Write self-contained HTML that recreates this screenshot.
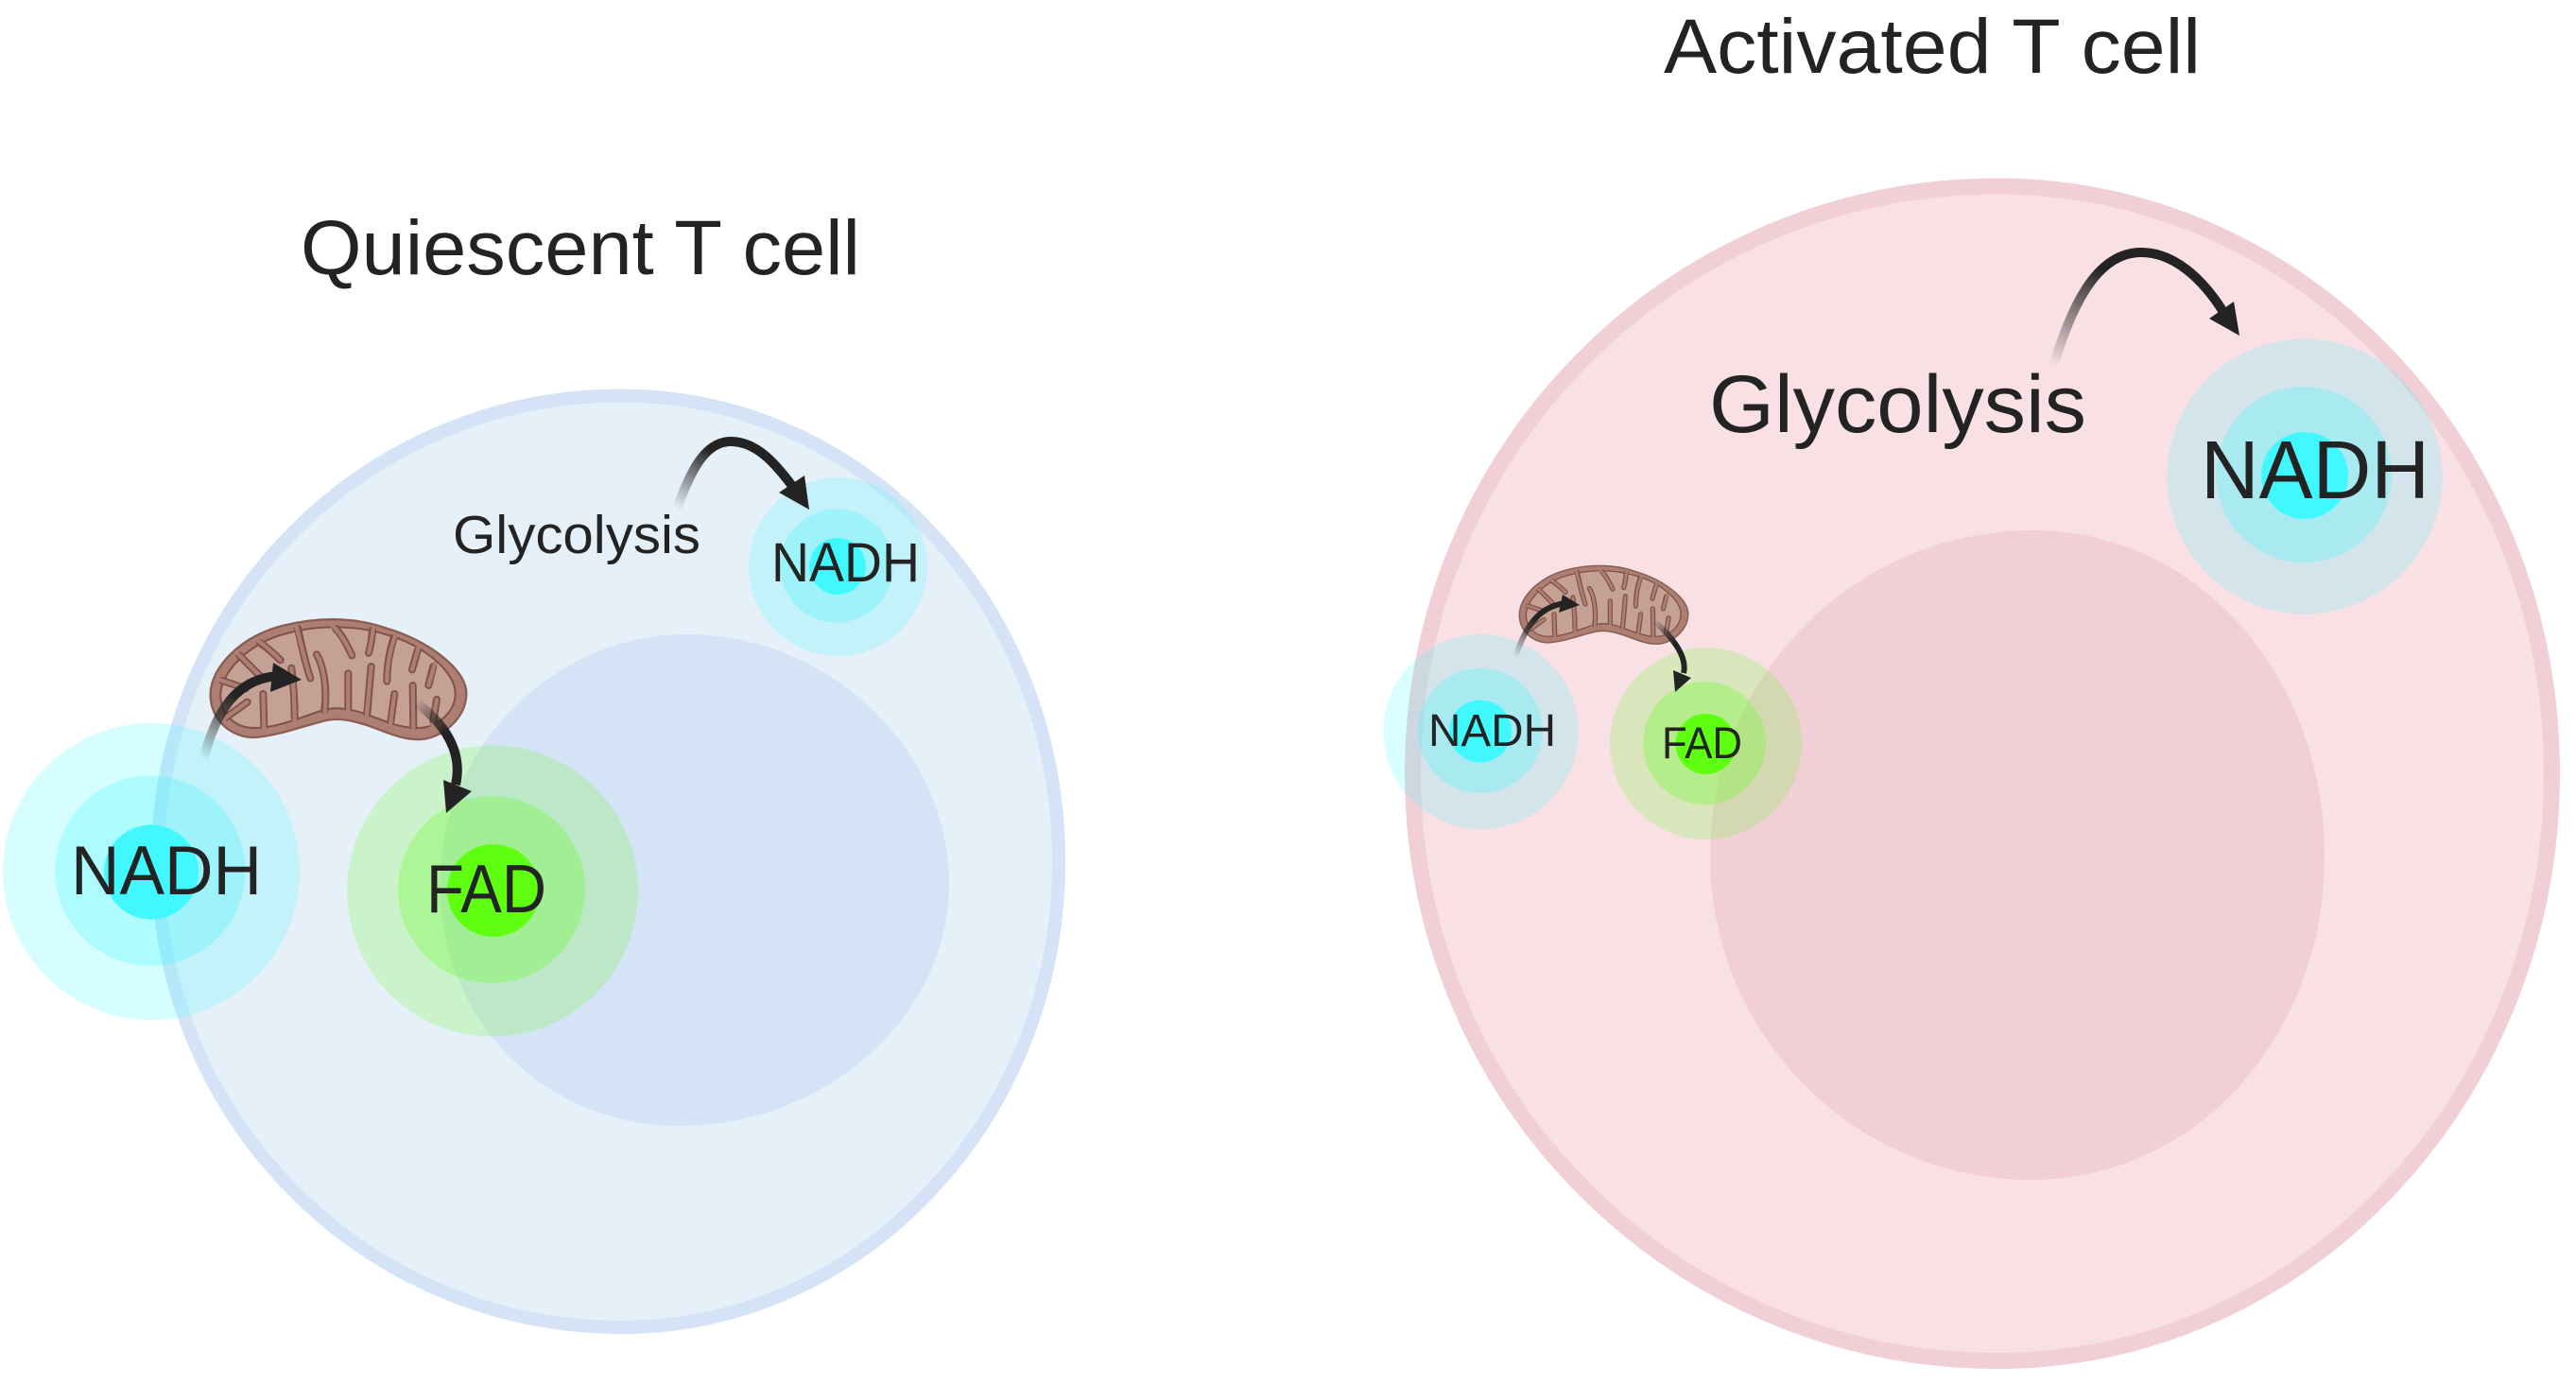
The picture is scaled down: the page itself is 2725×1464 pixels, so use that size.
<!DOCTYPE html>
<html>
<head>
<meta charset="utf-8">
<title>Quiescent and Activated T cell</title>
<style>
html,body{margin:0;padding:0;background:#fff}
svg{display:block}
text{font-family:"Liberation Sans",sans-serif;fill:#232323}
</style>
</head>
<body>
<svg width="2725" height="1464" viewBox="0 0 2725 1464" xmlns="http://www.w3.org/2000/svg">
<defs>
<linearGradient id="g1" gradientUnits="userSpaceOnUse" x1="215" y1="803" x2="250" y2="735"><stop offset="0" stop-color="#232323" stop-opacity="0"/><stop offset="1" stop-color="#232323"/></linearGradient>
<linearGradient id="g2" gradientUnits="userSpaceOnUse" x1="440" y1="743" x2="470" y2="775"><stop offset="0" stop-color="#232323" stop-opacity="0"/><stop offset="1" stop-color="#232323"/></linearGradient>
<linearGradient id="g3" gradientUnits="userSpaceOnUse" x1="716" y1="538" x2="752" y2="476"><stop offset="0" stop-color="#232323" stop-opacity="0"/><stop offset="1" stop-color="#232323"/></linearGradient>
<linearGradient id="g4" gradientUnits="userSpaceOnUse" x1="2172" y1="387" x2="2225" y2="285"><stop offset="0" stop-color="#232323" stop-opacity="0"/><stop offset="1" stop-color="#232323"/></linearGradient>
<linearGradient id="g5" gradientUnits="userSpaceOnUse" x1="1603" y1="695" x2="1625" y2="655"><stop offset="0" stop-color="#232323" stop-opacity="0"/><stop offset="1" stop-color="#232323"/></linearGradient>
<linearGradient id="g6" gradientUnits="userSpaceOnUse" x1="1750" y1="657" x2="1770" y2="680"><stop offset="0" stop-color="#232323" stop-opacity="0"/><stop offset="1" stop-color="#232323"/></linearGradient>
<g id="mito">
<path d="M68,310 C70,230 160,130 300,95 C400,70 520,65 630,105 C750,140 880,230 880,310 C880,380 820,440 750,455 C680,465 610,425 560,410 C510,395 470,385 420,400 C360,415 280,445 210,450 C130,452 65,390 68,310Z" fill="#ad7f72" stroke="#8a5f53" stroke-width="7"/>
<path d="M100,310 C105,240 190,150 310,120 C400,95 520,90 630,125 C740,155 845,240 845,310 C845,370 790,415 735,420 C680,425 610,395 560,375 C510,360 470,350 420,365 C360,385 280,420 210,420 C150,422 98,380 100,310Z" fill="#c5a195" stroke="#7f5148" stroke-width="6"/>
<g fill="none" stroke="#7f5148" stroke-width="24" stroke-linecap="round">
<path d="M105,270 L180,295"/><path d="M160,190 L225,255"/><path d="M225,150 C255,170 275,190 290,205"/><path d="M345,105 C360,170 370,220 385,262"/><path d="M465,105 C490,130 505,165 517,190"/><path d="M582,110 C580,140 575,165 570,182"/><path d="M650,135 C635,180 628,230 628,272"/><path d="M725,175 L708,235"/><path d="M775,225 L760,285"/>
<path d="M120,385 L185,338"/><path d="M238,410 L235,312"/><path d="M335,385 C335,320 330,270 325,230"/><path d="M430,365 C440,290 425,220 405,187"/><path d="M505,355 L505,247"/><path d="M565,375 L578,225"/><path d="M640,400 L652,312"/><path d="M712,415 L710,285"/><path d="M775,400 L786,330"/>
</g>
<g fill="none" stroke="#ad7f72" stroke-width="13" stroke-linecap="round">
<path d="M95,267 L180,295"/><path d="M150,180 L225,255"/><path d="M215,140 C255,170 275,190 290,205"/><path d="M340,95 C360,170 370,220 385,262"/><path d="M455,95 C490,130 505,165 517,190"/><path d="M585,100 C580,140 575,165 570,182"/><path d="M655,125 C635,180 628,230 628,272"/><path d="M728,165 L708,235"/><path d="M780,215 L760,285"/>
<path d="M110,392 L185,338"/><path d="M238,425 L235,312"/><path d="M335,400 C335,320 330,270 325,230"/><path d="M430,380 C440,290 425,220 405,187"/><path d="M505,370 L505,247"/><path d="M563,390 L578,225"/><path d="M638,415 L652,312"/><path d="M712,430 L710,285"/><path d="M772,415 L786,330"/>
</g>
</g>
</defs>

<!-- Quiescent cell -->
<path d="M167,911 C167,639 386,418.5 657,418.5 C913,418.5 1120,639 1120,911 C1120,1183 913,1404 657,1404 C386,1404 167,1183 167,911Z" fill="#e6f0f9" stroke="#d4e3f6" stroke-width="14"/>
<path d="M465,935 C465,792 585,671 726,671 C877,671 1004,792 1004,935 C1004,1078 870,1191 719,1191 C575,1191 465,1078 465,935Z" fill="#d4e3f6"/>

<g>
<circle cx="160" cy="922" r="157" fill="#42f8ff" fill-opacity=".21"/>
<circle cx="159" cy="921" r="100.5" fill="#42f8ff" fill-opacity=".28"/>
<circle cx="160" cy="922.5" r="50" fill="#42f8ff"/>
<circle cx="521" cy="942.5" r="154" fill="#5fff12" fill-opacity=".2"/>
<circle cx="520" cy="941" r="99" fill="#5fff12" fill-opacity=".28"/>
<circle cx="522" cy="942" r="49" fill="#5fff12"/>
<circle cx="886.5" cy="599.5" r="94.5" fill="#42f8ff" fill-opacity=".21"/>
<circle cx="885" cy="598.5" r="60" fill="#42f8ff" fill-opacity=".28"/>
<circle cx="886" cy="599" r="30" fill="#42f8ff"/>
</g>

<use href="#mito" transform="translate(200,630) scale(.3333)"/>

<path d="M215,803 C225,770 240,718 295,715" fill="none" stroke="url(#g1)" stroke-width="10"/>
<polygon points="289,701 319,719 286,732" fill="#232323"/>
<path d="M440,743 C470,765 490,795 482,830" fill="none" stroke="url(#g2)" stroke-width="10"/>
<polygon points="469,825 499,837 472,860" fill="#232323"/>
<path d="M716,538 C730,500 745,467 773,467 C800,467 820,490 838,514" fill="none" stroke="url(#g3)" stroke-width="10"/>
<polygon points="851,503 856,539 824,521" fill="#232323"/>

<text x="318" y="290" font-size="82" textLength="592" lengthAdjust="spacingAndGlyphs">Quiescent T cell</text>
<text x="479" y="585" font-size="57" textLength="262" lengthAdjust="spacingAndGlyphs">Glycolysis</text>
<text x="816" y="615" font-size="58" textLength="157" lengthAdjust="spacingAndGlyphs">NADH</text>
<text x="75" y="946" font-size="73" textLength="202" lengthAdjust="spacingAndGlyphs">NADH</text>
<text x="451" y="965" font-size="72" textLength="127" lengthAdjust="spacingAndGlyphs">FAD</text>

<!-- Activated cell -->
<path d="M1494.5,818 C1494.5,475 1771,197 2113,197 C2437,197 2699.5,475 2699.5,818 C2699.5,1161 2437,1439.5 2113,1439.5 C1771,1439.5 1494.5,1161 1494.5,818Z" fill="#f8e0e5" stroke="#f1cfd7" stroke-width="17"/>
<path d="M1809,905 C1809,715 1962,561 2151,561 C2325,561 2459,715 2459,905 C2459,1095 2325,1248 2148,1248 C1962,1248 1809,1095 1809,905Z" fill="#f1cfd7"/>

<g>
<circle cx="2438" cy="504" r="145.5" fill="#42f8ff" fill-opacity=".2"/>
<circle cx="2437" cy="502" r="93" fill="#42f8ff" fill-opacity=".29"/>
<circle cx="2438" cy="503" r="46" fill="#42f8ff"/>
<circle cx="1566.5" cy="774" r="103" fill="#42f8ff" fill-opacity=".2"/>
<circle cx="1566" cy="773" r="66" fill="#42f8ff" fill-opacity=".29"/>
<circle cx="1566" cy="773.5" r="33" fill="#42f8ff"/>
<circle cx="1804.5" cy="786.5" r="101.5" fill="#5fff12" fill-opacity=".2"/>
<circle cx="1803" cy="786" r="65" fill="#5fff12" fill-opacity=".28"/>
<circle cx="1804.5" cy="787" r="32" fill="#5fff12"/>
</g>

<use href="#mito" transform="translate(1592.4,582) scale(.2197,.2173)"/>

<path d="M1603,695 C1612,668 1625,641 1657,638" fill="none" stroke="url(#g5)" stroke-width="6"/>
<polygon points="1653,629 1671,640 1649,648" fill="#232323"/>
<path d="M1750,657 C1770,675 1785,695 1781,712" fill="none" stroke="url(#g6)" stroke-width="6"/>
<polygon points="1770,709 1789,717 1772,732" fill="#232323"/>
<path d="M2172,387 C2190,330 2215,267 2265,267 C2300,267 2330,295 2352,330" fill="none" stroke="url(#g4)" stroke-width="10"/>
<polygon points="2363,319 2369,355 2337,337" fill="#232323"/>

<text x="1760" y="77" font-size="82" textLength="568" lengthAdjust="spacingAndGlyphs">Activated T cell</text>
<text x="1808" y="457" font-size="86" textLength="399" lengthAdjust="spacingAndGlyphs">Glycolysis</text>
<text x="2328" y="527" font-size="87" textLength="242" lengthAdjust="spacingAndGlyphs">NADH</text>
<text x="1511" y="789" font-size="48" textLength="135" lengthAdjust="spacingAndGlyphs">NADH</text>
<text x="1758" y="802" font-size="47" textLength="85" lengthAdjust="spacingAndGlyphs">FAD</text>
</svg>
</body>
</html>
